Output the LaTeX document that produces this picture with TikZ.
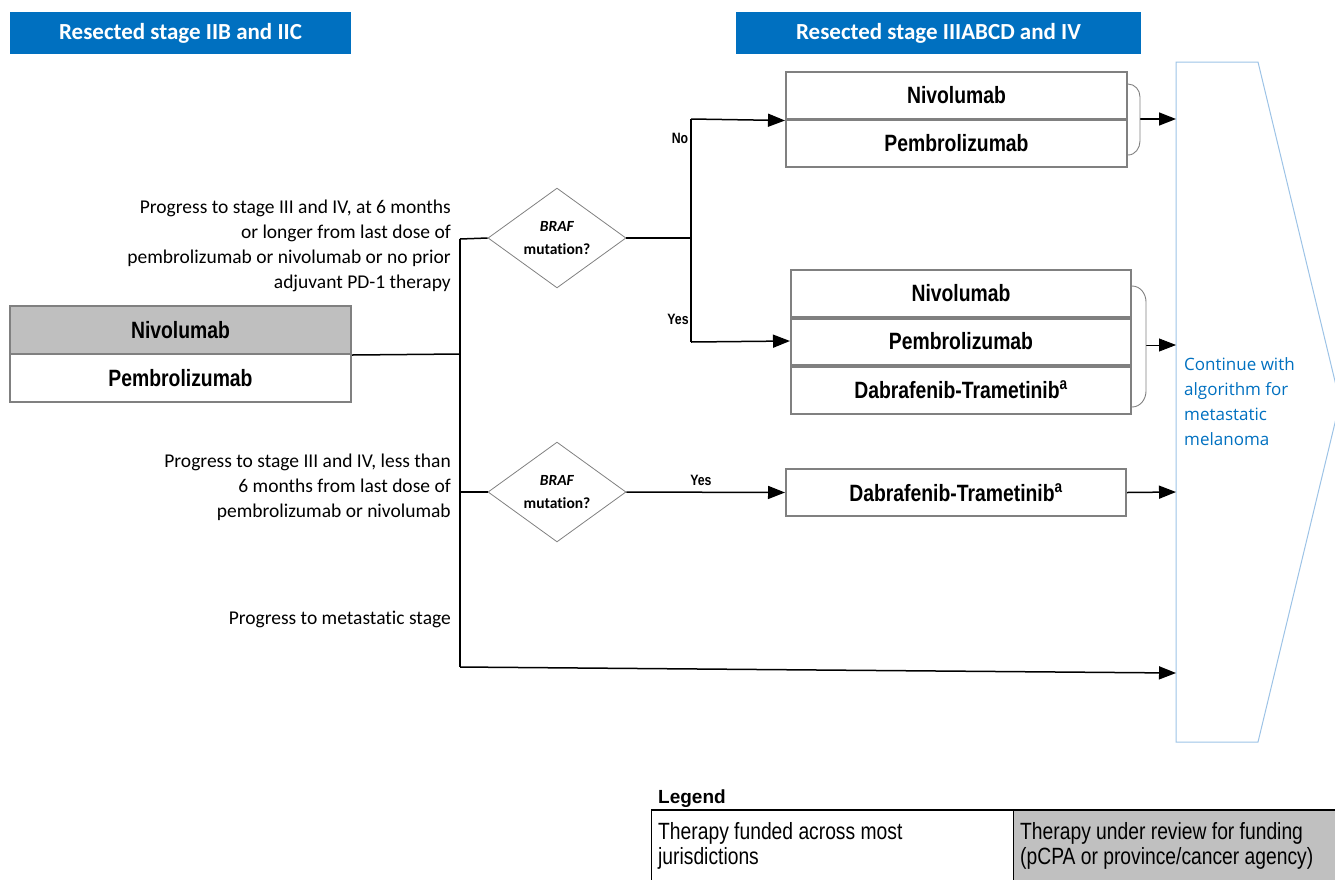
\documentclass[tikz,border=0pt]{standalone}
\usepackage{fontspec}
\setmainfont{Carlito}[Ligatures=CommonOff]
\newfontfamily\narrow[FakeStretch=0.82]{Liberation Sans}
\newfontfamily\arialf{Liberation Sans}
\newfontfamily\opensans{Open Sans}
\usetikzlibrary{shapes.geometric,arrows.meta}
\definecolor{hblue}{HTML}{0070C0}
\definecolor{boxgray}{HTML}{808080}
\definecolor{fillgray}{HTML}{BFBFBF}
\definecolor{chevblue}{HTML}{9DC3E6}
\definecolor{leggray}{HTML}{C0C0C0}
\begin{document}
\begin{tikzpicture}[x=1pt,y=-1pt,
 header/.style={fill=hblue, text=white, minimum height=42pt, inner sep=0pt, font=\fontsize{23}{27}\selectfont\bfseries},
 drug/.style={draw=boxgray, line width=2pt, minimum width=341pt, minimum height=48pt, inner sep=0pt, font=\narrow\fontsize{23.6}{27}\selectfont\bfseries},
 cond/.style={align=right, anchor=east, inner sep=0pt, font=\fontsize{19.5}{25}\selectfont},
 dec/.style={diamond, draw=boxgray, line width=0.8pt, minimum width=138pt, minimum height=90pt, inner sep=0pt, align=center, font=\fontsize{15.5}{23}\selectfont\bfseries},
 lbl/.style={inner sep=0pt, font=\narrow\fontsize{15}{17}\selectfont\bfseries},
 conn/.style={line width=1.5pt},
 arr/.style={line width=1.5pt, -{Triangle[length=17pt,width=13pt]}},
 brace/.style={draw=boxgray, line width=0.9pt},
 chev/.style={draw=chevblue, line width=1pt},
 divider/.style={draw=boxgray, line width=3.5pt},
 legtext/.style={anchor=north west, align=left, inner sep=0pt, font=\narrow\fontsize{23.5}{25}\selectfont},
]
\useasboundingbox (0,0) rectangle (1335,879);

% headers
\node[header, minimum width=341pt] (h1) at (180.5,33) {Resected stage IIB and IIC};
\node[header, minimum width=405pt] (h2) at (938.5,33) {Resected stage IIIABCD and IV};

% left boxes
\node[drug, fill=fillgray] (lnivo) at (180.5,330) {Nivolumab};
\node[drug] (lpem) at (180.5,378) {Pembrolizumab};

% conditions
\node[cond] (t1) at (451,246) {Progress to stage III and IV, at 6 months\\or longer from last dose of\\pembrolizumab or nivolumab or no prior\\adjuvant PD-1 therapy};
\node[cond] (t2) at (451,487) {Progress to stage III and IV, less than\\6 months from last dose of\\pembrolizumab or nivolumab};
\node[cond] (t3) at (451,619) {Progress to metastatic stage};

% decisions
\node[dec] (d1) at (557,238) {\textit{BRAF}\\mutation?};
\node[dec] (d2) at (557,492) {\textit{BRAF}\\mutation?};

% right groups
\node[drug] (g1a) at (956.5,95.5) {Nivolumab};
\node[drug] (g1b) at (956.5,143) {Pembrolizumab};
\node[drug, minimum width=340pt, minimum height=47pt] (g2a) at (961,293.5) {Nivolumab};
\node[drug, minimum width=340pt] (g2b) at (961,341) {Pembrolizumab};
\node[drug, minimum width=340pt, minimum height=49pt] (g2c) at (961,389.5) {Dabrafenib-Trametinib\textsuperscript{a}};
\draw[divider] (g2a.south west) -- (g2a.south east);
\draw[divider] (g2b.south west) -- (g2b.south east);
\node[drug, minimum width=340pt, minimum height=47pt] (g3) at (956,492.5) {Dabrafenib-Trametinib\textsuperscript{a}};

% chevron
\draw[chev] (1176,62) -- (1258,62) -- (1340,402) -- (1258,742) -- (1176,742) -- cycle;
\node[anchor=north west, align=left, inner sep=0pt, text=hblue, font=\opensans\fontsize{17}{25}\selectfont] (ct) at (1184,357) {Continue with\\algorithm for\\metastatic\\melanoma};

% coordinates
\coordinate (tr1) at (460,239);
\coordinate (tr2) at (460,354);
\coordinate (tr3) at (460,492);
\coordinate (tr4) at (460,667);
\coordinate (s1) at (691,238);
\coordinate (s1t) at (691,119);
\coordinate (s1b) at (691,342);
\coordinate (b1) at (1140,119);
\coordinate (b2) at (1146,345);
\coordinate (c1) at (1176,119);
\coordinate (c2) at (1176,345);
\coordinate (c3) at (1176,492);
\coordinate (c4) at (1176,673);

% connectors
\draw[conn] (lnivo.south east) -- (tr2);
\draw[conn] (tr1) -- (tr4);
\draw[conn] (tr1) -- (d1.west);
\draw[conn] (tr3) -- (d2.west);
\draw[conn] (d1.east) -- (s1);
\draw[conn] (s1t) -- (s1b);
\draw[arr] (s1t) -- (g1a.south west);
\draw[arr] (s1b) -- (g2b.west);
\draw[arr] (d2.east) -- (g3.west) node[lbl, pos=0.47, above=6pt] {Yes};
\draw[arr] (g3.east) -- (c3);
\draw[arr] (tr4) -- (c4);
\draw[arr] (b1) -- (c1);
\draw[arr, line width=0.8pt] (b2) -- (c2);
\node[lbl] (no) at (680,138) {No};
\node[lbl] (yes1) at (678,319) {Yes};

% braces
\draw[brace] (1128,84) to[out=0,in=90] (1140,97) -- (1140,141) to[out=-90,in=0] (1128,155);
\draw[brace] (1132,286) to[out=0,in=90] (1146,302) -- (1146,391) to[out=-90,in=0] (1132,407);

% legend
\node[anchor=base west, inner sep=0pt, font=\arialf\fontsize{19}{22}\selectfont\bfseries] (legt) at (658,803) {Legend};
\draw[line width=1pt] (651,890) -- (651,810) -- (1013,810) -- (1013,890);
\fill[leggray] (1013.5,810.5) rectangle (1345,890);
\draw[line width=1pt] (1013,810) -- (1013,890);
\draw[line width=2pt] (651,810) -- (1345,810);
\node[legtext] (leg1) at (658,822) {Therapy funded across most\\jurisdictions};
\node[legtext] (leg2) at (1020,822) {Therapy under review for funding\\(pCPA or province/cancer agency)};
\end{tikzpicture}
\end{document}
